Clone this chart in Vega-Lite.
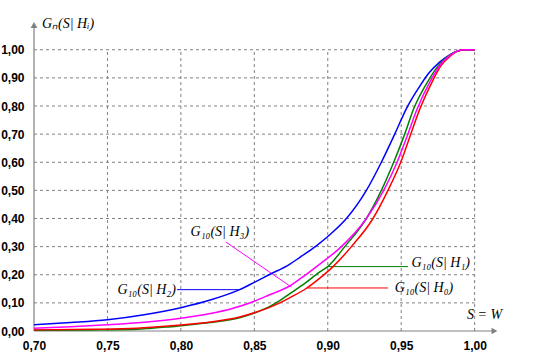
{
  "$schema": "https://vega.github.io/schema/vega-lite/v6.json",
  "width": 470,
  "height": 315,
  "autosize": {"type": "none"},
  "padding": {"left": 34, "top": 16, "right": 36, "bottom": 29},
  "background": "white",
  "config": {"view": {"stroke": null}},
  "datasets": {
    "grid": [
      {"S": 0.7, "S2": 1.0, "G": 0.1, "G2": 0.1},
      {"S": 0.7, "S2": 1.0, "G": 0.2, "G2": 0.2},
      {"S": 0.7, "S2": 1.0, "G": 0.3, "G2": 0.3},
      {"S": 0.7, "S2": 1.0, "G": 0.4, "G2": 0.4},
      {"S": 0.7, "S2": 1.0, "G": 0.5, "G2": 0.5},
      {"S": 0.7, "S2": 1.0, "G": 0.6, "G2": 0.6},
      {"S": 0.7, "S2": 1.0, "G": 0.7, "G2": 0.7},
      {"S": 0.7, "S2": 1.0, "G": 0.8, "G2": 0.8},
      {"S": 0.7, "S2": 1.0, "G": 0.9, "G2": 0.9},
      {"S": 0.7, "S2": 1.0, "G": 1.0, "G2": 1.0},
      {"S": 0.75, "S2": 0.75, "G": 0, "G2": 1.0},
      {"S": 0.8, "S2": 0.8, "G": 0, "G2": 1.0},
      {"S": 0.85, "S2": 0.85, "G": 0, "G2": 1.0},
      {"S": 0.9, "S2": 0.9, "G": 0, "G2": 1.0},
      {"S": 0.95, "S2": 0.95, "G": 0, "G2": 1.0},
      {"S": 1.0, "S2": 1.0, "G": 0, "G2": 1.0}
    ],
    "axislines": [
      {"S": 0.7, "S2": 1.013, "G": 0, "G2": 0},
      {"S": 0.7, "S2": 0.7, "G": 0, "G2": 1.08}
    ],
    "arrows": [
      {"S": 1.0135, "G": 0, "shape": "triangle-right"},
      {"S": 0.7, "G": 1.088, "shape": "triangle-up"}
    ],
    "curves": [
      {"series": "H2", "S": 0.70, "G": 0.022},
      {"series": "H2", "S": 0.725, "G": 0.030},
      {"series": "H2", "S": 0.75, "G": 0.040},
      {"series": "H2", "S": 0.775, "G": 0.058},
      {"series": "H2", "S": 0.80, "G": 0.083},
      {"series": "H2", "S": 0.82, "G": 0.110},
      {"series": "H2", "S": 0.84, "G": 0.147},
      {"series": "H2", "S": 0.85, "G": 0.173},
      {"series": "H2", "S": 0.86, "G": 0.200},
      {"series": "H2", "S": 0.874, "G": 0.237},
      {"series": "H2", "S": 0.881, "G": 0.262},
      {"series": "H2", "S": 0.892, "G": 0.302},
      {"series": "H2", "S": 0.902, "G": 0.345},
      {"series": "H2", "S": 0.9127, "G": 0.400},
      {"series": "H2", "S": 0.9263, "G": 0.500},
      {"series": "H2", "S": 0.9365, "G": 0.600},
      {"series": "H2", "S": 0.9456, "G": 0.700},
      {"series": "H2", "S": 0.954, "G": 0.795},
      {"series": "H2", "S": 0.962, "G": 0.865},
      {"series": "H2", "S": 0.969, "G": 0.918},
      {"series": "H2", "S": 0.976, "G": 0.955},
      {"series": "H2", "S": 0.983, "G": 0.982},
      {"series": "H2", "S": 0.989, "G": 0.996},
      {"series": "H2", "S": 0.993, "G": 1.0},
      {"series": "H2", "S": 1.0, "G": 1.0},
      {"series": "H1", "S": 0.70, "G": 0.003},
      {"series": "H1", "S": 0.74, "G": 0.004},
      {"series": "H1", "S": 0.77, "G": 0.006},
      {"series": "H1", "S": 0.78, "G": 0.010},
      {"series": "H1", "S": 0.79, "G": 0.014},
      {"series": "H1", "S": 0.80, "G": 0.019},
      {"series": "H1", "S": 0.82, "G": 0.030},
      {"series": "H1", "S": 0.84, "G": 0.047},
      {"series": "H1", "S": 0.85, "G": 0.064},
      {"series": "H1", "S": 0.86, "G": 0.086},
      {"series": "H1", "S": 0.8673, "G": 0.108},
      {"series": "H1", "S": 0.874, "G": 0.132},
      {"series": "H1", "S": 0.8846, "G": 0.170},
      {"series": "H1", "S": 0.8946, "G": 0.210},
      {"series": "H1", "S": 0.90, "G": 0.229},
      {"series": "H1", "S": 0.9116, "G": 0.300},
      {"series": "H1", "S": 0.9263, "G": 0.400},
      {"series": "H1", "S": 0.9365, "G": 0.500},
      {"series": "H1", "S": 0.9449, "G": 0.600},
      {"series": "H1", "S": 0.9524, "G": 0.700},
      {"series": "H1", "S": 0.9585, "G": 0.790},
      {"series": "H1", "S": 0.969, "G": 0.895},
      {"series": "H1", "S": 0.976, "G": 0.948},
      {"series": "H1", "S": 0.9825, "G": 0.979},
      {"series": "H1", "S": 0.988, "G": 0.995},
      {"series": "H1", "S": 0.993, "G": 1.0},
      {"series": "H1", "S": 1.0, "G": 1.0},
      {"series": "H0", "S": 0.70, "G": 0.004},
      {"series": "H0", "S": 0.74, "G": 0.006},
      {"series": "H0", "S": 0.77, "G": 0.010},
      {"series": "H0", "S": 0.80, "G": 0.021},
      {"series": "H0", "S": 0.82, "G": 0.032},
      {"series": "H0", "S": 0.84, "G": 0.050},
      {"series": "H0", "S": 0.85, "G": 0.065},
      {"series": "H0", "S": 0.86, "G": 0.083},
      {"series": "H0", "S": 0.8673, "G": 0.100},
      {"series": "H0", "S": 0.874, "G": 0.118},
      {"series": "H0", "S": 0.8855, "G": 0.152},
      {"series": "H0", "S": 0.8946, "G": 0.188},
      {"series": "H0", "S": 0.9036, "G": 0.229},
      {"series": "H0", "S": 0.9161, "G": 0.300},
      {"series": "H0", "S": 0.9308, "G": 0.400},
      {"series": "H0", "S": 0.941, "G": 0.500},
      {"series": "H0", "S": 0.9497, "G": 0.600},
      {"series": "H0", "S": 0.9562, "G": 0.695},
      {"series": "H0", "S": 0.962, "G": 0.780},
      {"series": "H0", "S": 0.971, "G": 0.885},
      {"series": "H0", "S": 0.977, "G": 0.943},
      {"series": "H0", "S": 0.9835, "G": 0.978},
      {"series": "H0", "S": 0.988, "G": 0.994},
      {"series": "H0", "S": 0.993, "G": 1.0},
      {"series": "H0", "S": 1.0, "G": 1.0},
      {"series": "H3", "S": 0.70, "G": 0.010},
      {"series": "H3", "S": 0.725, "G": 0.015},
      {"series": "H3", "S": 0.75, "G": 0.022},
      {"series": "H3", "S": 0.775, "G": 0.031},
      {"series": "H3", "S": 0.80, "G": 0.045},
      {"series": "H3", "S": 0.82, "G": 0.062},
      {"series": "H3", "S": 0.835, "G": 0.080},
      {"series": "H3", "S": 0.85, "G": 0.106},
      {"series": "H3", "S": 0.86, "G": 0.128},
      {"series": "H3", "S": 0.874, "G": 0.160},
      {"series": "H3", "S": 0.881, "G": 0.185},
      {"series": "H3", "S": 0.8946, "G": 0.238},
      {"series": "H3", "S": 0.9093, "G": 0.300},
      {"series": "H3", "S": 0.9263, "G": 0.400},
      {"series": "H3", "S": 0.9381, "G": 0.500},
      {"series": "H3", "S": 0.9472, "G": 0.600},
      {"series": "H3", "S": 0.9542, "G": 0.695},
      {"series": "H3", "S": 0.9605, "G": 0.785},
      {"series": "H3", "S": 0.970, "G": 0.890},
      {"series": "H3", "S": 0.9765, "G": 0.946},
      {"series": "H3", "S": 0.983, "G": 0.979},
      {"series": "H3", "S": 0.988, "G": 0.995},
      {"series": "H3", "S": 0.993, "G": 1.0},
      {"series": "H3", "S": 1.0, "G": 1.0}
    ],
    "pointers": [
      {"series": "H2", "S": 0.7973, "S2": 0.840, "G": 0.147, "G2": 0.147},
      {"series": "H3", "S": 0.8306, "S2": 0.8753, "G": 0.3166, "G2": 0.156},
      {"series": "H1", "S": 0.9002, "S2": 0.9546, "G": 0.229, "G2": 0.229},
      {"series": "H0", "S": 0.8855, "S2": 0.941, "G": 0.153, "G2": 0.153}
    ],
    "labels": [
      {"S": 0.8265, "G": 0.353, "text": "G₁₀(S| H₃)", "align": "center"},
      {"S": 0.7966, "G": 0.146, "text": "G₁₀(S| H₂)", "align": "right"},
      {"S": 0.957, "G": 0.242, "text": "G₁₀(S| H₁)", "align": "left"},
      {"S": 0.9456, "G": 0.152, "text": "G₁₀(S| H₀)", "align": "left"},
      {"S": 0.7054, "G": 1.092, "text": "Gₙ(S| Hᵢ)", "align": "left"},
      {"S": 1.0068, "G": 0.057, "text": "S = W", "align": "center"}
    ]
  },
  "encoding": {
    "x": {
      "field": "S",
      "type": "quantitative",
      "scale": {"domain": [0.7, 1.02], "nice": false, "zero": false},
      "axis": {
        "values": [0.7, 0.75, 0.8, 0.85, 0.9, 0.95, 1.0],
        "labelExpr": "replace(format(datum.value, '.2f'), '.', ',')",
        "domain": false,
        "ticks": false,
        "grid": false,
        "title": null,
        "labelFont": "Liberation Sans",
        "labelFontWeight": "bold",
        "labelFontSize": 12,
        "labelColor": "black",
        "labelPadding": 9,
        "labelFlush": false,
        "labelBound": false,
        "labelOverlap": false
      }
    },
    "y": {
      "field": "G",
      "type": "quantitative",
      "scale": {"domain": [0, 1.12], "nice": false, "zero": false},
      "axis": {
        "values": [0, 0.1, 0.2, 0.3, 0.4, 0.5, 0.6, 0.7, 0.8, 0.9, 1.0],
        "labelExpr": "replace(format(datum.value, '.2f'), '.', ',')",
        "domain": false,
        "ticks": false,
        "grid": false,
        "title": null,
        "labelFont": "Liberation Sans",
        "labelFontWeight": "bold",
        "labelFontSize": 12,
        "labelColor": "black",
        "labelPadding": 10,
        "labelFlush": false,
        "labelBound": false,
        "labelOverlap": false
      }
    }
  },
  "layer": [
    {
      "data": {"name": "grid"},
      "mark": {"type": "rule", "color": "#808080", "strokeWidth": 1, "strokeDash": [3, 3]},
      "encoding": {"x2": {"field": "S2"}, "y2": {"field": "G2"}}
    },
    {
      "data": {"name": "axislines"},
      "mark": {"type": "rule", "color": "#808080", "strokeWidth": 1.2},
      "encoding": {"x2": {"field": "S2"}, "y2": {"field": "G2"}}
    },
    {
      "data": {"name": "arrows"},
      "mark": {"type": "point", "filled": true, "color": "#808080", "size": 45, "opacity": 1},
      "encoding": {"shape": {"field": "shape", "type": "nominal", "scale": null}}
    },
    {
      "data": {"name": "pointers"},
      "mark": {"type": "rule", "strokeWidth": 1},
      "encoding": {
        "x2": {"field": "S2"},
        "y2": {"field": "G2"},
        "color": {"field": "series", "type": "nominal", "scale": {"domain": ["H0", "H1", "H2", "H3"], "range": ["#ff0000", "#008000", "#0000ff", "#ff00ff"]}, "legend": null}
      }
    },
    {
      "data": {"name": "curves"},
      "mark": {"type": "line", "strokeWidth": 1.5, "interpolate": "monotone"},
      "encoding": {
        "color": {"field": "series", "type": "nominal", "scale": {"domain": ["H0", "H1", "H2", "H3"], "range": ["#ff0000", "#008000", "#0000ff", "#ff00ff"]}, "legend": null, "sort": null},
        "order": {"field": "S", "type": "quantitative"}
      }
    },
    {
      "data": {"name": "labels"},
      "transform": [{"filter": "datum.align === 'left'"}],
      "mark": {"type": "text", "align": "left", "baseline": "middle", "font": "Liberation Serif", "fontStyle": "italic", "fontSize": 14, "color": "black"},
      "encoding": {"text": {"field": "text"}}
    },
    {
      "data": {"name": "labels"},
      "transform": [{"filter": "datum.align === 'right'"}],
      "mark": {"type": "text", "align": "right", "baseline": "middle", "font": "Liberation Serif", "fontStyle": "italic", "fontSize": 14, "color": "black"},
      "encoding": {"text": {"field": "text"}}
    },
    {
      "data": {"name": "labels"},
      "transform": [{"filter": "datum.align === 'center'"}],
      "mark": {"type": "text", "align": "center", "baseline": "middle", "font": "Liberation Serif", "fontStyle": "italic", "fontSize": 14, "color": "black"},
      "encoding": {"text": {"field": "text"}}
    }
  ]
}
